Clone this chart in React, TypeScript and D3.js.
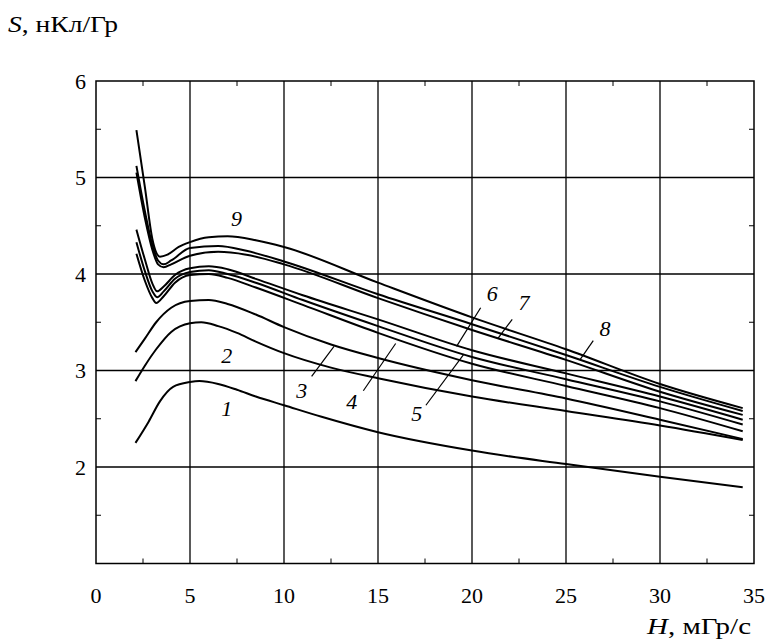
import React, { useEffect, useRef } from 'react';
import * as d3 from 'd3';

// S vs H points, one array per curve
const curve1: [number, number][] = [[2.1, 2.25], [2.8, 2.47], [3.4, 2.68], [4.1, 2.83], [5, 2.88], [5.5, 2.89], [6.5, 2.86], [7.5, 2.8], [8.5, 2.73], [10, 2.64], [12, 2.52], [15, 2.36], [20, 2.17], [25, 2.03], [30, 1.9], [34.4, 1.79]];
const curve2: [number, number][] = [[2.1, 2.89], [2.6, 3.05], [3.2, 3.22], [4, 3.4], [5, 3.49], [5.6, 3.5], [6.5, 3.46], [7.5, 3.39], [8.5, 3.3], [10, 3.18], [12.5, 3.03], [15, 2.92], [20, 2.73], [25, 2.58], [30, 2.43], [34.4, 2.28]];
const curve3: [number, number][] = [[2.1, 3.19], [2.6, 3.33], [3.2, 3.5], [4, 3.65], [5, 3.72], [6, 3.73], [7, 3.69], [8.5, 3.58], [10, 3.45], [12.5, 3.27], [15, 3.13], [20, 2.9], [25, 2.71], [30, 2.49], [34.4, 2.29]];
const curve4: [number, number][] = [[2.15, 4.21], [2.6, 3.93], [3.0, 3.75], [3.2, 3.7], [3.6, 3.77], [4.2, 3.91], [5, 3.99], [6, 4.0], [7, 3.96], [8.5, 3.86], [11, 3.68], [15, 3.39], [20, 3.07], [25, 2.84], [30, 2.61], [34.4, 2.37]];
const curve5: [number, number][] = [[2.15, 4.33], [2.6, 4.03], [3.0, 3.82], [3.25, 3.76], [3.6, 3.82], [4.2, 3.95], [5, 4.02], [6, 4.04], [7, 4.0], [8.5, 3.91], [11, 3.73], [15, 3.46], [20, 3.14], [25, 2.91], [30, 2.68], [34.4, 2.44]];
const curve6: [number, number][] = [[2.15, 4.46], [2.6, 4.15], [3.0, 3.9], [3.25, 3.82], [3.6, 3.87], [4.2, 3.99], [5, 4.06], [6, 4.08], [7, 4.05], [8.5, 3.95], [11, 3.78], [15, 3.53], [20, 3.21], [25, 2.97], [30, 2.73], [34.4, 2.49]];
const curve7: [number, number][] = [[2.15, 5.05], [2.6, 4.58], [3.0, 4.25], [3.3, 4.1], [3.6, 4.07], [4, 4.1], [5, 4.19], [6.5, 4.23], [8, 4.2], [10, 4.1], [15, 3.75], [20, 3.42], [25, 3.11], [30, 2.78], [34.4, 2.54]];
const curve8: [number, number][] = [[2.15, 5.12], [2.6, 4.65], [3.0, 4.3], [3.3, 4.14], [3.6, 4.1], [4, 4.14], [5, 4.27], [6.5, 4.29], [8, 4.24], [10, 4.13], [15, 3.79], [20, 3.48], [25, 3.16], [30, 2.83], [34.4, 2.58]];
const curve9: [number, number][] = [[2.15, 5.49], [2.6, 4.9], [3.0, 4.36], [3.4, 4.18], [3.8, 4.2], [4.4, 4.28], [5, 4.33], [6, 4.38], [7, 4.39], [8.5, 4.35], [10, 4.28], [15, 3.91], [20, 3.55], [25, 3.22], [30, 2.86], [34.4, 2.61]];
const curves = [curve1, curve2, curve3, curve4, curve5, curve6, curve7, curve8, curve9];

// curve labels: text, label centre (x, y) and optional leader line (x1, y1, x2, y2)
const labelText = ['1', '2', '3', '4', '5', '6', '7', '8', '9'];
const labelPos: [number, number][] = [[6.95, 2.61], [6.95, 3.16], [10.94, 2.8], [13.6, 2.68], [17.06, 2.56], [21.08, 3.8], [22.77, 3.71], [27.07, 3.44], [7.48, 4.58]];
const leaders: ([number, number, number, number] | null)[] = [
  null, null,
  [11.47, 2.94, 12.66, 3.25],
  [14.22, 2.79, 15.94, 3.28],
  [17.55, 2.64, 19.57, 3.17],
  [20.46, 3.65, 19.18, 3.25],
  [22.14, 3.53, 21.37, 3.33],
  [26.45, 3.31, 25.74, 3.11],
  null,
];

const xTicks = [0, 5, 10, 15, 20, 25, 30, 35];
const yTicks = [2, 3, 4, 5, 6];
const xMinor = [2.5, 7.5, 12.5, 17.5, 22.5, 27.5, 32.5];
const yMinor = [1.5, 2.5, 3.5, 4.5, 5.5];

const App: React.FC = () => {
  const svgRef = useRef<SVGSVGElement>(null);

  useEffect(() => {
    if (!svgRef.current) return;
    const svg = d3.select(svgRef.current);
    svg.selectAll('*').remove();

    const left = 96, right = 754, top = 81, bottom = 563.5;
    const font = 'Liberation Serif, Times New Roman, Times, serif';
    const numSize = 22;
    const x = d3.scaleLinear().domain([0, 35]).range([left, right]);
    const y = d3.scaleLinear().domain([1, 6]).range([bottom, top]);

    // grid lines
    xTicks.slice(1, -1).forEach(v => {
      svg.append('line').attr('x1', x(v)).attr('x2', x(v)).attr('y1', top).attr('y2', bottom)
        .attr('stroke', '#000').attr('stroke-width', 1.3);
    });
    yTicks.slice(0, -1).forEach(v => {
      svg.append('line').attr('x1', left).attr('x2', right).attr('y1', y(v)).attr('y2', y(v))
        .attr('stroke', '#000').attr('stroke-width', 1.3);
    });

    // minor ticks, inside on all sides
    const tl = 5;
    xMinor.forEach(v => {
      svg.append('line').attr('x1', x(v)).attr('x2', x(v)).attr('y1', bottom).attr('y2', bottom - tl).attr('stroke', '#000').attr('stroke-width', 1);
      svg.append('line').attr('x1', x(v)).attr('x2', x(v)).attr('y1', top).attr('y2', top + tl).attr('stroke', '#000').attr('stroke-width', 1);
    });
    yMinor.forEach(v => {
      svg.append('line').attr('x1', left).attr('x2', left + tl).attr('y1', y(v)).attr('y2', y(v)).attr('stroke', '#000').attr('stroke-width', 1);
      svg.append('line').attr('x1', right).attr('x2', right - tl).attr('y1', y(v)).attr('y2', y(v)).attr('stroke', '#000').attr('stroke-width', 1);
    });

    // frame
    svg.append('rect').attr('x', left).attr('y', top).attr('width', right - left).attr('height', bottom - top)
      .attr('fill', 'none').attr('stroke', '#000').attr('stroke-width', 1.5);

    // tick labels
    xTicks.forEach(v => {
      svg.append('text').attr('x', x(v)).attr('y', bottom + 39).attr('text-anchor', 'middle')
        .attr('font-family', font).attr('font-size', numSize).text(v);
    });
    yTicks.forEach(v => {
      svg.append('text').attr('x', left - 10).attr('y', y(v)).attr('dy', '0.35em').attr('text-anchor', 'end')
        .attr('font-family', font).attr('font-size', numSize).text(v);
    });

    // axis titles
    const yt = svg.append('text').attr('x', 8).attr('y', 32).attr('font-family', font).attr('font-size', 23)
      .attr('textLength', 110).attr('lengthAdjust', 'spacingAndGlyphs');
    yt.append('tspan').attr('font-style', 'italic').text('S');
    yt.append('tspan').text(', нКл/Гр');
    const xt = svg.append('text').attr('x', 647).attr('y', 634).attr('font-family', font).attr('font-size', 23)
      .attr('textLength', 104).attr('lengthAdjust', 'spacingAndGlyphs');
    xt.append('tspan').attr('font-style', 'italic').text('H');
    xt.append('tspan').text(', мГр/с');

    // curves
    const line = d3.line<[number, number]>()
      .x(d => x(d[0]))
      .y(d => y(d[1]))
      .curve(d3.curveMonotoneX);
    curves.forEach(c => {
      svg.append('path').attr('d', line(c)).attr('fill', 'none')
        .attr('stroke', '#000').attr('stroke-width', 2);
    });

    // labels and leaders
    labelText.forEach((t, i) => {
      svg.append('text').attr('x', x(labelPos[i][0])).attr('y', y(labelPos[i][1])).attr('dy', '0.35em')
        .attr('text-anchor', 'middle').attr('font-family', font).attr('font-style', 'italic')
        .attr('font-size', numSize).text(t);
      const l = leaders[i];
      if (l) {
        svg.append('line').attr('x1', x(l[0])).attr('y1', y(l[1])).attr('x2', x(l[2])).attr('y2', y(l[3]))
          .attr('stroke', '#000').attr('stroke-width', 1.2);
      }
    });
  }, []);

  return (
    <svg ref={svgRef} width={766} height={640}
      style={{ position: 'absolute', left: 0, top: 0, background: '#fff' }} />
  );
};

export default App;
